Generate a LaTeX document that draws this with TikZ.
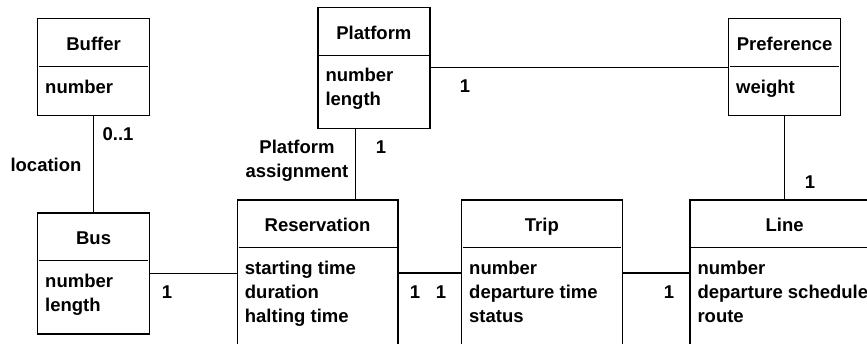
\documentclass[tikz,border=0pt]{standalone}
\usepackage{fontspec}
\setmainfont{Liberation Sans}
\usetikzlibrary{calc}

\tikzset{
  cls/.style={draw, line width=1.2pt, inner sep=0pt, anchor=north west},
  ttl/.style={anchor=base, inner sep=0pt},
  attr/.style={anchor=base west, inner sep=0pt, align=left},
  mult/.style={anchor=base, inner sep=0pt},
  assoc/.style={line width=1.2pt},
}

\begin{document}
\begin{tikzpicture}[x=1pt, y=-1pt,
    every node/.style={font=\fontsize{18.5}{24}\selectfont\bfseries}]
  \useasboundingbox (0,0) rectangle (867,343);
  \clip (0,0) rectangle (867,343);

  % class boxes
  \node[cls, minimum width=112, minimum height=97]  (buffer)      at (37,18)     {};
  \node[cls, minimum width=112, minimum height=121] (platform)    at (317.3,6.7) {};
  \node[cls, minimum width=112, minimum height=97]  (preference)  at (728,18)    {};
  \node[cls, minimum width=112, minimum height=121] (bus)         at (37,212.3)  {};
  \node[cls, minimum width=160.6, minimum height=146] (reservation) at (236.7,199.3) {};
  \node[cls, minimum width=160.6, minimum height=146] (trip)        at (461,199.3)   {};
  \node[cls, minimum width=189.4, minimum height=146] (line)        at (689.3,199.3) {};

  % separators between name and attributes
  \foreach \c in {buffer,platform,preference,bus,reservation,trip,line}
    \draw[assoc] ($(\c.north west)+(2,48.5)$) -- ($(\c.north east)+(-2,48.5)$);

  % names
  \node[ttl] (buffer-t)      at ($(buffer.north)+(0,32.5)$)      {Buffer};
  \node[ttl] (platform-t)    at ($(platform.north)+(0,32.5)$)    {Platform};
  \node[ttl] (preference-t)  at ($(preference.north)+(0,32.5)$)  {Preference};
  \node[ttl] (bus-t)         at ($(bus.north)+(0,32.5)$)         {Bus};
  \node[ttl] (reservation-t) at ($(reservation.north)+(0,32.5)$) {Reservation};
  \node[ttl] (trip-t)        at ($(trip.north)+(0,32.5)$)        {Trip};
  \node[ttl] (line-t)        at ($(line.north)+(0,32.5)$)        {Line};

  % attributes (base = baseline of the last line)
  \node[attr] (buffer-a)      at ($(buffer.north west)+(8,75)$)       {number};
  \node[attr] (platform-a)    at ($(platform.north west)+(8,99)$)     {number\\length};
  \node[attr] (preference-a)  at ($(preference.north west)+(8,75)$)   {weight};
  \node[attr] (bus-a)         at ($(bus.north west)+(8,99)$)          {number\\length};
  \node[attr] (reservation-a) at ($(reservation.north west)+(8,123)$) {starting time\\duration\\halting time};
  \node[attr] (trip-a)        at ($(trip.north west)+(8,123)$)        {number\\departure time\\status};
  \node[attr] (line-a)        at ($(line.north west)+(8,123)$)        {number\\departure schedule\\route};

  % associations
  \begin{scope}[assoc]
    \draw (buffer.south) to (bus.north);
    \draw (platform.east |- preference.west) to (preference.west);
    \draw (preference.south) to (line.north);
    \draw ([xshift=-18.3]platform.south) to ([xshift=-18.3]platform.south |- reservation.north);
    \draw (bus.east) to (bus.east -| reservation.west);
    \draw (reservation.east) to (trip.west);
    \draw (trip.east) to (line.west);
  \end{scope}

  % multiplicities and roles
  \node[mult] (m-buf)   at (118,140)   {0..1};
  \node[mult] (r-loc)   at (46,171)    {location};
  \node[mult, align=center] (r-pa) at (297,177.5) {Platform\\assignment};
  \node[mult] (m-pla)   at (381,153)   {1};
  \node[mult] (m-pref)  at (465,92)    {1};
  \node[mult] (m-line)  at (810,188)   {1};
  \node[mult] (m-bus)   at (167,298)   {1};
  \node[mult] (m-res)   at (415,298)   {1};
  \node[mult] (m-trip1) at (441,298)   {1};
  \node[mult] (m-trip2) at (669,298)   {1};
\end{tikzpicture}
\end{document}
